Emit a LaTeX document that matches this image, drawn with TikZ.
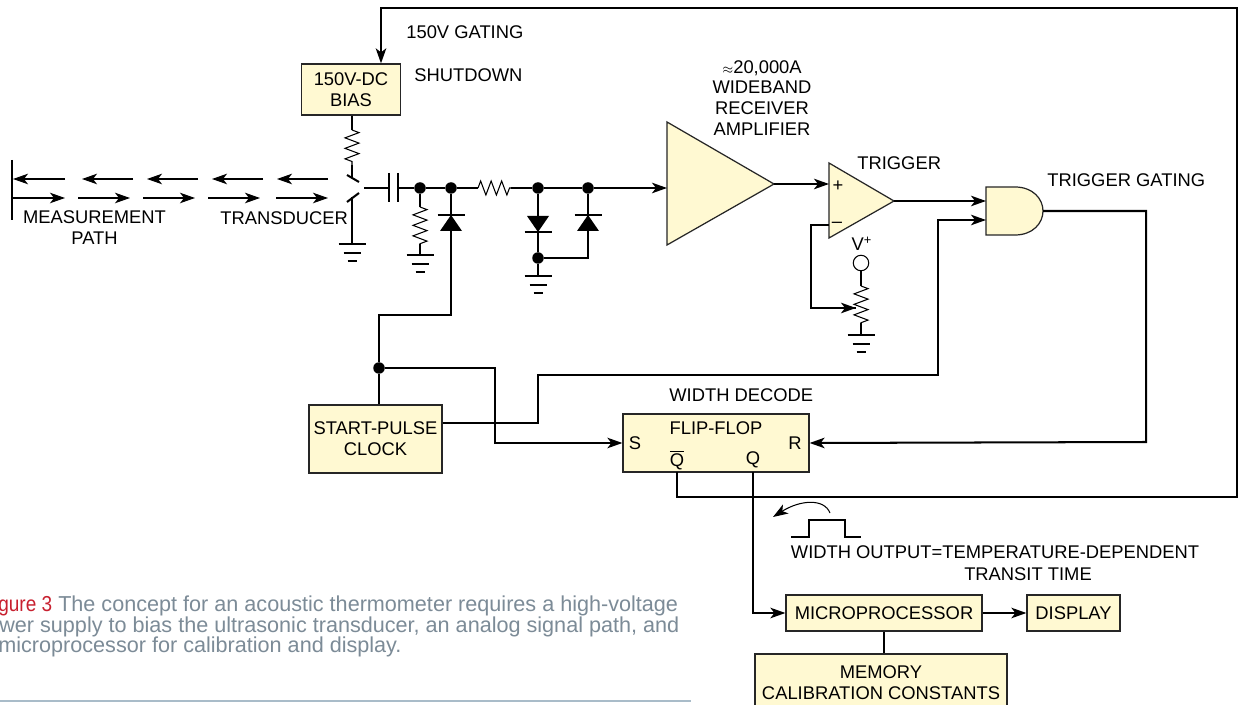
\documentclass[tikz,border=0pt]{standalone}
\usepackage{fontspec}
\setmainfont{Liberation Sans}
\usetikzlibrary{arrows.meta, decorations.pathmorphing}

\definecolor{boxfill}{HTML}{FFF9D2}
\definecolor{capgray}{HTML}{7C8B97}
\definecolor{capred}{HTML}{C8202F}
\definecolor{capline}{HTML}{A9BCC9}

\tikzset{
   wire/.style={line width=1.15pt},
   thinwire/.style={line width=0.6pt},
   outline/.style={draw=black!85, line width=0.7pt, fill=boxfill},
   block/.style={outline, rectangle, inner sep=0pt, align=center, font=\lbl},
   lbl/.style={inner sep=0pt, align=center, font=\lbl},
   res/.style={thinwire, decorate, decoration={zigzag, segment length=0.21cm, amplitude=0.14cm, pre length=#1, post length=#1}},
   res/.default=0.3cm,
   dot/.style={circle, fill=black, inner sep=0pt, minimum size=0.23cm},
   ground/.pic={
      \draw[wire] (-13.5,0) -- (13.5,0);
      \draw[wire] (-8.5,9) -- (8.5,9);
      \draw[wire] (-4.5,17) -- (4.5,17);
   },
   diodeup/.pic={
      \draw[wire] (-13.5,0) -- (13.5,0);
      \fill (0,0) -- (11,16) -- (-11,16) -- cycle;
   },
   diodedown/.pic={
      \draw[wire] (-13.5,0) -- (13.5,0);
      \fill (0,0) -- (11,-16) -- (-11,-16) -- cycle;
   }
}
\newcommand{\lbl}{\fontsize{10.45}{11.9}\selectfont}
\newcommand{\caplbl}{\fontsize{12.3}{14}\selectfont}

\begin{document}
\begin{tikzpicture}[x=0.02cm, y=-0.02cm, >={Stealth[length=3mm, width=2.1mm, inset=0.8mm]}]
   \clip (0,0) rectangle (1240,705);
   \fill[white] (0,0) rectangle (1240,705);

   % blocks
   \node[block, minimum width=1.98cm, minimum height=1.02cm] (bias) at (351,89.5) {150V-DC\\BIAS};
   \node[block, minimum width=2.66cm, minimum height=1.36cm] (clock) at (375.5,439) {START-PULSE\\CLOCK};
   \node[block, minimum width=3.72cm, minimum height=1.16cm] (ff) at (716,443) {};
   \node[block, minimum width=3.92cm, minimum height=0.72cm] (micro) at (884,613) {MICROPROCESSOR};
   \node[block, minimum width=1.86cm, minimum height=0.72cm] (disp) at (1073.5,613) {DISPLAY};
   \node[block, minimum width=5.04cm, minimum height=1.2cm] (mem) at (881,684) {};

   % amplifier, trigger and gate
   \draw[outline] (667,122) coordinate (amp_a) -- (667,245) -- (774,184) coordinate (amp_o) -- cycle;
   \coordinate (amp_i) at (667,188);
   \draw[outline] (829,163) -- (829,238) -- (894,201) coordinate (trig_o) -- cycle;
   \coordinate (trig_p) at (829,184);
   \coordinate (trig_m) at (829,225);
   \draw[outline] (986,187) -- (1015,187) .. controls (1033,187) and (1043,199) .. (1043,211)
      .. controls (1043,223) and (1033,235) .. (1015,235) -- (986,235) -- cycle;
   \coordinate (gate_a) at (986,201);
   \coordinate (gate_b) at (986,220);
   \coordinate (gate_o) at (1043,211);

   % junctions
   \node[dot] (j1) at (420,188) {};
   \node[dot] (j2) at (451,188) {};
   \node[dot] (j3) at (538,188) {};
   \node[dot] (j4) at (588,188) {};
   \node[dot] (j5) at (538,258) {};
   \node[dot] (j6) at (379,368) {};
   \coordinate (sw_up) at (352,178);
   \coordinate (sw_dn) at (352,197);
   \coordinate (sw_o) at (364,188);
   \coordinate (cap_a) at (389,188);
   \coordinate (cap_b) at (398,188);
   \coordinate (g1) at (352,244);
   \coordinate (g2) at (420,255);
   \coordinate (g3) at (538,276);
   \coordinate (g4) at (861,335);
   \node[circle, draw, thinwire, fill=white, inner sep=0pt, minimum size=0.31cm] (vp) at (861,263) {};
   \coordinate (wiper) at (856,308);

   % transducer
   \coordinate (wall_t) at (12,160);
   \coordinate (wall_b) at (12,220);
   \draw[wire] (wall_t) -- (wall_b);
   \foreach \xa/\xb in {65/13, 133/82, 198/147, 263/212, 328/277}
      \draw[->, thinwire] (\xa,179) -- (\xb,179);
   \foreach \xa/\xb in {12/65, 78/130, 143/195, 208/260, 276/328}
      \draw[->, thinwire] (\xa,198) -- (\xb,198);

   % switch and front end
   \draw[thinwire] (bias.south -| sw_up) -- (352,130);
   \draw[res=0cm] (352,130) -- (352,165);
   \draw[thinwire] (352,165) -- (sw_up);
   \draw[wire] (347,175) -- (359,182);
   \draw[wire] (347,202) -- (359,193);
   \draw[wire] (sw_dn) -- (g1);
   \pic at (g1) {ground};
   \draw[wire] (sw_o) -- (cap_a);
   \draw[wire] (389,173) -- (389,202);
   \draw[wire] (398,173) -- (398,202);
   \draw[wire] (cap_b) -- (j1);
   \draw[wire] (j1) -- (j2);
   \draw[wire] (j2) -- (478,188);
   \draw[res=0cm] (478,188) -- (511,188);
   \draw[thinwire] (511,188) -- (528,188);
   \draw[wire] (528,188) -- (j3);
   \draw[wire] (j3) -- (j4);
   \draw[wire, ->] (j4) -- (amp_i);
   \draw[thinwire] (j1) -- (420,207);
   \draw[res=0cm] (420,207) -- (420,244);
   \draw[thinwire] (420,244) -- (g2);
   \pic at (g2) {ground};
   \draw[wire] (j3) -- (j5);
   \draw[wire] (j4) |- (j5);
   \pic at (538,232) {diodedown};
   \pic at (588,215) {diodeup};
   \draw[wire] (j5) -- (g3);
   \pic at (g3) {ground};
   \pic at (451,215) {diodeup};

   % signal path
   \draw[wire, ->] (amp_o) -- (trig_p);
   \draw[wire, ->] (trig_o) -- (gate_a);
   \draw[wire] (trig_m) -- (811,225) |- (wiper);
   \draw[wire, ->] (811,308) -- (wiper);
   \draw[thinwire] (vp) -- (861,286);
   \draw[res=0cm] (861,286) -- (861,323);
   \draw[thinwire] (861,323) -- (g4);
   \pic at (g4) {ground};

   % digital part
   \draw[wire] (j2) |- (379,315) -- (j6);
   \draw[wire] (j6) -- (clock.north -| j6);
   \draw[wire, ->] (j6) -- (495,368) |- (ff.west);
   \draw[wire, ->] (clock.east |- 0,423) -| (538,375) -| (938,220) -- (gate_b);
   \draw[wire, ->] (gate_o) -| (1146,442) -- (ff.east);
   \draw[wire, ->] (677,472) -- (677,497) -- (1237,497) -- (1237,8) -- (381,8) -- (bias.north -| 381,0);
   \draw[wire, ->] (753,472) |- (micro.west);
   \draw[wire, ->] (micro.east) -- (disp.west);
   \draw[wire] (micro.south) -- (mem.north -| micro.south);
   \draw[->, line width=0.6pt] (830,513) .. controls (824,498) and (800,500) .. (773,517);
   \draw[thinwire] (791,537) -- (809,537) -- (809,520) -- (845,520) -- (845,537) -- (861,537);

   % labels
   \node[lbl, anchor=west] (gating) at (406,32) {150V GATING};
   \node[lbl, anchor=west] (shut) at (414,75) {SHUTDOWN};
   \node[lbl] (ampl) at (762,98) {{\scriptsize$\approx$}20,000A\\WIDEBAND\\RECEIVER\\AMPLIFIER};
   \node[lbl, anchor=west] (trigl) at (857,163) {TRIGGER};
   \node[lbl, anchor=west] (gatel) at (1047,180) {TRIGGER GATING};
   \node[lbl, anchor=west] (decl) at (669,395) {WIDTH DECODE};
   \node[lbl] (meas) at (94.5,228) {MEASUREMENT\\PATH};
   \node[lbl, anchor=west] (trans) at (220,218) {TRANSDUCER};
   \node[lbl] (plus) at (838,186) {+};
   \node[lbl] (minus) at (837,225) {--};
   \node[lbl] (vpl) at (862,244) {V\textsuperscript{+}};
   \node[lbl] (ffl) at (716,428) {FLIP-FLOP};
   \node[lbl] (sl) at (635,443) {S};
   \node[lbl] (rl) at (795,443) {R};
   \node[lbl] (qb) at (677,460) {$\overline{\mbox{Q}}$};
   \node[lbl] (ql) at (753,460) {Q};
   \node[lbl] (wo) at (995,552) {WIDTH OUTPUT=TEMPERATURE-DEPENDENT};
   \node[lbl] (tt) at (1028,574) {TRANSIT TIME};
   \node[lbl] (meml) at (881,683) {MEMORY\\CALIBRATION CONSTANTS};

   % caption
   \node[inner sep=0pt, anchor=base west, font=\caplbl, text=capgray] (cap1) at (-2,611.5) {\textcolor{capred}{\scalebox{0.88}[1]{gure 3}} The concept for an acoustic thermometer requires a high-voltage};
   \node[inner sep=0pt, anchor=base west, font=\caplbl, text=capgray] (cap2) at (-1,632) {wer supply to bias the ultrasonic transducer, an analog signal path, and};
   \node[inner sep=0pt, anchor=base west, font=\caplbl, text=capgray] (cap3) at (-2,652.5) {microprocessor for calibration and display.};
   \draw[capline, line width=1.1pt] (0,701) -- (691,701);
\end{tikzpicture}
\end{document}
